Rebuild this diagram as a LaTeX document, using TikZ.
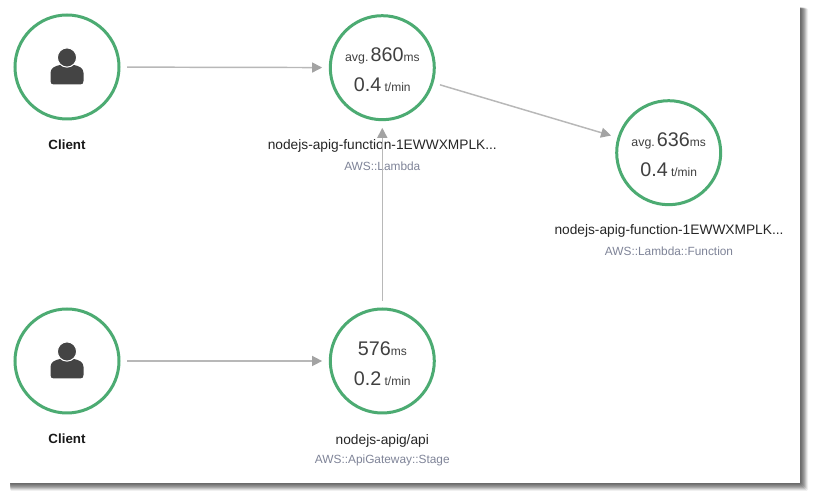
\documentclass[tikz,border=0pt]{standalone}
\usepackage{fontspec}
\setmainfont{Liberation Sans}
\usetikzlibrary{arrows.meta}
\definecolor{ringgreen}{HTML}{4CAB72}
\definecolor{typegray}{HTML}{7F8498}
\definecolor{edgegray}{HTML}{B8B8B8}
\definecolor{tipgray}{HTML}{A3A3A3}
\definecolor{iconfill}{HTML}{444444}
\newcommand{\fs}[1]{\fontsize{#1}{22.5}\selectfont}
\tikzset{
  ring/.style={circle,draw=ringgreen,line width=2.25pt,minimum size=78pt,inner sep=0pt,align=center,text=black!75,font=\fs{14.8}},
  edge/.style={draw=edgegray,line width=1.1pt,shorten <=5pt,shorten >=5pt,-{Triangle[length=7.5pt,width=7.5pt,color=tipgray]}},
  title/.style={font=\fs{10.3},text=black!85},
  kind/.style={font=\fs{8.9},text=typegray},
  clientname/.style={font=\fs{10}\bfseries,text=black!90},
}
\newcommand{\stats}[3]{\rule{0pt}{14pt}{\fs{9.3}#1}#2{\fs{9}ms}\\#3\,{\fs{9}t/min}}
\newcommand{\person}[1]{%
  \begin{scope}[shift={(#1)}]
    \fill[iconfill] (-16.5,14) .. controls (-16.5,16.5) and (-15.5,17.5) .. (-13,17.5) -- (13,17.5)
      .. controls (15.5,17.5) and (16.5,16.5) .. (16.5,14) -- (16.5,6)
      .. controls (16.5,1) and (12,-1) .. (7,-2) -- (-7,-2)
      .. controls (-12,-1) and (-16.5,1) .. (-16.5,6) -- cycle;
    \fill[iconfill,draw=white,line width=0.75pt] (0,-9.5) circle (9.6);
  \end{scope}
}
\begin{document}
\begin{tikzpicture}[x=0.75pt,y=-0.75pt]
  \useasboundingbox (0,0) rectangle (815,498);
  % page with its shadow
  \foreach \d/\t in {8/6,7/14,6/24,5/34,4/42,3/48,2/54,1/58}
    \fill[black!\t,rounded corners=1pt] (10,8) rectangle (800+\d,483+\d);
  \fill[white] (0,0) rectangle (800,483);
  % nodes
  \node[ring] (clienta) at (67,67) {};
  \node[ring] (lambda)  at (382.3,67.7) {\stats{avg.\,}{860}{0.4}};
  \node[ring] (func)    at (668.7,152.7) {\stats{avg.\,}{636}{0.4}};
  \node[ring] (clientb) at (67,361) {};
  \node[ring] (stage)   at (382.3,361) {\stats{}{576}{0.2}};
  \person{clienta}
  \person{clientb}
  % labels
  \node[clientname] (clientatext) at (67,145) {Client};
  \node[clientname] (clientbtext) at (67,439) {Client};
  \node[title] (lambdatext) at (382.3,146) {nodejs-apig-function-1EWWXMPLK...};
  \node[kind]  (lambdakind) at (382.3,166) {AWS::Lambda};
  \node[title] (functext)   at (669,231) {nodejs-apig-function-1EWWXMPLK...};
  \node[kind]  (funckind)   at (669,251) {AWS::Lambda::Function};
  \node[title] (stagetext)  at (382.3,440.5) {nodejs-apig/api};
  \node[kind]  (stagekind)  at (382.3,460.5) {AWS::ApiGateway::Stage};
  % connectors
  \draw[edge] (clienta) -- (lambda);
  \draw[edge] (lambda) -- (func);
  \draw[edge] (clientb) -- (stage);
  \draw[edge] (stage) -- (lambda);
\end{tikzpicture}
\end{document}
